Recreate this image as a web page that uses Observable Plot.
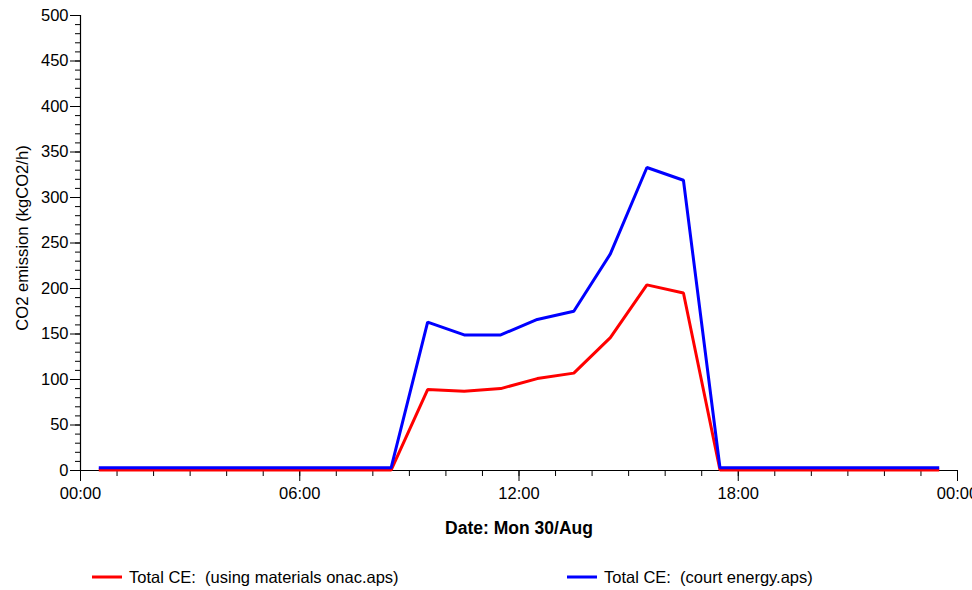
<!DOCTYPE html>
<html>
<head>
<meta charset="utf-8">
<script src="https://cdn.jsdelivr.net/npm/d3@7"></script>
<script src="https://cdn.jsdelivr.net/npm/@observablehq/plot@0.6"></script>
<style>
  html, body { margin: 0; padding: 0; background: white; overflow: hidden; }
  #wrap { position: relative; width: 972px; height: 590px; font-family: "Liberation Sans", Arial, sans-serif; }
  #legend { position: absolute; left: 0; top: 550px; width: 972px; height: 40px; }
  .item { position: absolute; top: 27px; transform: translateY(-50%); display: flex; align-items: center; font-size: 16.5px; color: #000; white-space: pre; }
  .swatch { display: inline-block; width: 30px; height: 3px; margin-right: 7px; }
</style>
</head>
<body>
<div id="wrap">
  <div id="chart"></div>
  <div id="legend"></div>
</div>
<script>
// ---- data ----
const times = ["00:30","01:30","02:30","03:30","04:30","05:30","06:30","07:30","08:30","09:30","10:30","11:30",
               "12:30","13:30","14:30","15:30","16:30","17:30","18:30","19:30","20:30","21:30","22:30","23:30"];
const seriesNames = ["Total CE:  (using materials onac.aps)", "Total CE:  (court energy.aps)"];
const seriesColors = ["#ff0000", "#0000ff"];
const redValues  = [0.5,0.5,0.5,0.5,0.5,0.5,0.5,0.5,0.5, 89, 87, 90, 101, 107, 146, 204, 195, 0.5,0.5,0.5,0.5,0.5,0.5,0.5];
const blueValues = [3,3,3,3,3,3,3,3,3, 163, 149, 149, 166, 175, 238, 333, 319, 3,3,3,3,3,3,3];
const xTickHours = [0, 6, 12, 18, 24];
const xTickLabels = ["00:00", "06:00", "12:00", "18:00", "00:00"];
const xMinorHours = d3.range(0, 25, 1);
const yTicks = d3.range(0, 501, 50);
const yMinorTicks = d3.range(0, 501, 10);
const xLabel = "Date: Mon 30/Aug";
const yLabel = "CO2 emission (kgCO2/h)";

const toHour = s => { const [h, m] = s.split(":").map(Number); return h + m / 60; };
const rows = [];
[redValues, blueValues].forEach((vals, si) => {
  vals.forEach((v, i) => rows.push({series: seriesNames[si], hour: toHour(times[i]), value: v}));
});

const plot = Plot.plot({
  width: 972,
  height: 550,
  marginLeft: 80,
  marginRight: 15,
  marginTop: 15,
  marginBottom: 80,
  style: {fontFamily: "'Liberation Sans', Arial, sans-serif", fontSize: "16.5px", color: "#000", background: "white", overflow: "hidden"},
  x: {domain: [0, 24]},
  y: {domain: [0, 500]},
  color: {domain: seriesNames, range: seriesColors},
  marks: [
    Plot.axisY({ticks: yMinorTicks, tickSize: 5, tickFormat: () => "", label: null}),
    Plot.axisY({ticks: yTicks, tickSize: 10, tickPadding: 2, tickFormat: d => String(d), label: null, fontSize: 16.5}),
    Plot.axisX({ticks: xMinorHours, tickSize: 6, tickFormat: () => "", label: null}),
    Plot.axisX({ticks: xTickHours, tickSize: 11, tickPadding: 6, tickFormat: d => xTickLabels[xTickHours.indexOf(d)], label: null, fontSize: 16.5}),
    Plot.ruleX([0], {stroke: "#000", strokeWidth: 1.2}),
    Plot.ruleY([0], {stroke: "#000", strokeWidth: 1.2}),
    Plot.line(rows, {x: "hour", y: "value", z: "series", stroke: "series", strokeWidth: 3, strokeLinejoin: "miter", strokeLinecap: "butt"}),
    Plot.text([yLabel], {frameAnchor: "left", textAnchor: "middle", lineAnchor: "middle", rotate: -90, dx: -58, dy: -5, fontSize: 16.6}),
    Plot.text([xLabel], {frameAnchor: "bottom", textAnchor: "middle", lineAnchor: "middle", dy: 58, fontSize: 17.5, fontWeight: "bold"})
  ]
});
document.getElementById("chart").appendChild(plot);

const legend = document.getElementById("legend");
const legendX = [92, 567];
seriesNames.forEach((name, i) => {
  const item = document.createElement("div");
  item.className = "item";
  item.style.left = legendX[i] + "px";
  const sw = document.createElement("span");
  sw.className = "swatch";
  sw.style.background = seriesColors[i];
  const tx = document.createElement("span");
  tx.textContent = name;
  item.appendChild(sw);
  item.appendChild(tx);
  legend.appendChild(item);
});
</script>
</body>
</html>
